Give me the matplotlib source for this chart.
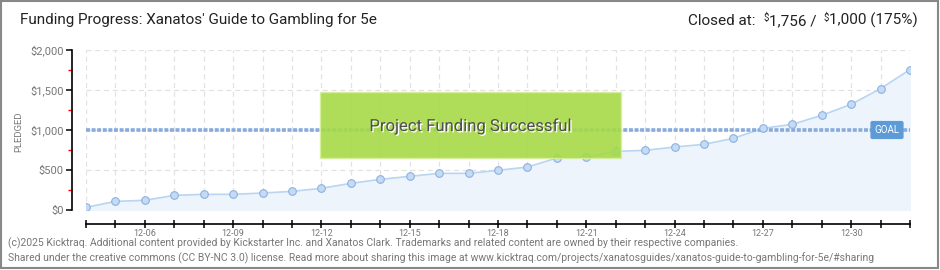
from matplotlib import pyplot as plt
from matplotlib.patches import Rectangle
import matplotlib.patheffects as pe
import numpy as np

plt.rcParams['font.family'] = ['Roboto', 'DejaVu Sans']

# pledged totals per day, 12-04 .. 01-01
days = ['12-04', '12-05', '12-06', '12-07', '12-08', '12-09', '12-10', '12-11',
        '12-12', '12-13', '12-14', '12-15', '12-16', '12-17', '12-18', '12-19',
        '12-20', '12-21', '12-22', '12-23', '12-24', '12-25', '12-26', '12-27',
        '12-28', '12-29', '12-30', '12-31', '01-01']
pledged = [33, 108, 121, 183, 196, 196, 212, 233,
           271, 333, 383, 421, 458, 458, 496, 537,
           650, 658, 733, 746, 787, 821, 896, 1021,
           1071, 1183, 1321, 1517, 1756]
goal = 1000
y_ticks = [0, 500, 1000, 1500, 2000]
y_labels = ['$0', '$500', '$1,000', '$1,500', '$2,000']

W, H = 940, 270
fig = plt.figure(figsize=(W / 100, H / 100), dpi=100)

x = np.arange(len(days))
ax = fig.add_axes([86 / W, (H - 210) / H, (910 - 86) / W, 160 / H])
ax.set_xlim(0, len(days) - 1)
ax.set_ylim(0, 2000)

# grid
for xi in x:
    ax.axvline(xi, color='#e2e2e2', lw=0.9, ls=(0, (4, 3)), zorder=0)
for yv in y_ticks:
    ax.axhline(yv, color='#e2e2e2', lw=0.9, ls=(0, (4, 3)), zorder=0)

ax.fill_between(x, pledged, 0, color='#edf4fc', zorder=1)
ax.plot(x, pledged, color='#b9d5f2', lw=1.2, zorder=2)
ax.plot(x, pledged, 'o', ms=5.5, mfc='#c3dbf6', mec='#8eb1dc', mew=0.8, zorder=4)

# goal line + label
ax.plot([0, len(days) - 1], [goal, goal], color='#86abdc', lw=2.6,
        dashes=(1.1, 0.45), zorder=3)
ax.text((887 - 86) / 824 * (len(days) - 1), goal, 'GOAL', color='white',
        fontsize=7, ha='center', va='center', zorder=6,
        bbox=dict(boxstyle='round,pad=0.35,rounding_size=0.15',
                  fc='#5c9ad8', ec='#5c9ad8'))

# success banner
ax.add_patch(Rectangle((0.284, 0.325), 0.365, 0.4125, transform=ax.transAxes,
                       fc='#a6da48', ec='#d8ef9c', lw=1, alpha=0.9, zorder=5))
ax.text(0.466, 0.525, 'Project Funding Successful', transform=ax.transAxes,
        fontsize=12, color='#505050', ha='center', va='center', zorder=6,
        path_effects=[pe.withSimplePatchShadow(offset=(1, -1),
                                               shadow_rgbFace='white', alpha=1)])

# axes styling
for s in ['top', 'right']:
    ax.spines[s].set_visible(False)
ax.spines['left'].set_position(('outward', 10))
ax.spines['bottom'].set_position(('outward', 10))
ax.spines['left'].set_linewidth(1.2)
ax.spines['bottom'].set_linewidth(1.2)

ax.set_xticks(x)
ax.set_xticklabels([d if i % 3 == 2 else '' for i, d in enumerate(days)])
ax.tick_params(axis='x', direction='inout', length=6, width=1.1,
               labelsize=6.5, labelcolor='#777777', pad=1)
ax.set_yticks(y_ticks)
ax.set_yticklabels(y_labels)
ax.set_yticks([250, 750, 1250, 1750], minor=True)
ax.tick_params(axis='y', which='major', length=4, width=1.1,
               labelsize=8, labelcolor='#777777', pad=2)
ax.tick_params(axis='y', which='minor', length=3, width=1, color='red')
fig.text(19 / W, 1 - 132 / H, 'PLEDGED', rotation=90, fontsize=6.8,
         color='#777777', ha='center', va='center')

# header
fig.text(20 / W, 1 - 20 / H, "Funding Progress: Xanatos' Guide to Gambling for 5e",
         fontsize=11, color='#222222', va='center')

# "Closed at" line, built right to left on one baseline
fig.canvas.draw()
renderer = fig.canvas.get_renderer()
parts = [('Closed at:  ', 11, 0), ('$', 7, 4), ('1,756 /  ', 11, 0),
         ('$', 7, 4), ('1,000 (175%)', 11, 0)]
xr = 918
base = H - 25
for txt, fs, rise in reversed(parts):
    t = fig.text(xr / W, (base + rise) / H, txt, fontsize=fs, color='#222222',
                 ha='right', va='baseline')
    xr -= t.get_window_extent(renderer).width

# footer
fig.text(8 / W, 1 - 243 / H,
         '(c)2025 Kicktraq. Additional content provided by Kickstarter Inc. and Xanatos Clark. '
         'Trademarks and related content are owned by their respective companies.',
         fontsize=7.5, color='#777777', va='center')
fig.text(8 / W, 1 - 258 / H,
         'Shared under the creative commons (CC BY-NC 3.0) license. Read more about sharing this '
         'image at www.kicktraq.com/projects/xanatosguides/xanatos-guide-to-gambling-for-5e/#sharing',
         fontsize=7.5, color='#777777', va='center')

# frame
fig.add_artist(Rectangle((0.5 / W, 2 / H), 937 / W, 267 / H, transform=fig.transFigure,
                         fill=False, ec='#888888', lw=1.5))

fig.savefig('out.png', dpi=100)
